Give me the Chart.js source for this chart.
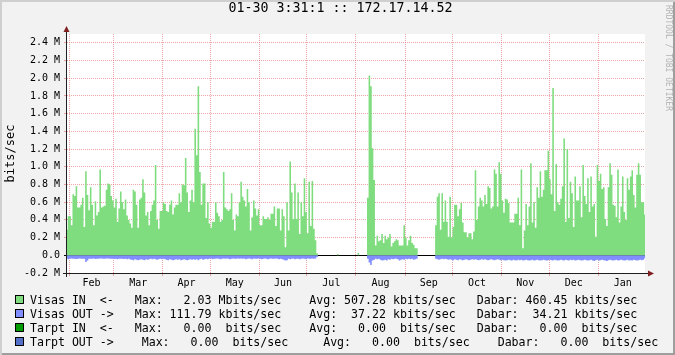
<!DOCTYPE html>
<html>
<head>
<meta charset="utf-8">
<script src="https://cdn.jsdelivr.net/npm/chart.js@4.4.0/dist/chart.umd.min.js"></script>
<style>
  html, body { margin: 0; padding: 0; background: #fff; }
  #wrap {
    position: relative; width: 675px; height: 355px; overflow: hidden;
    background: #f2f2f2;
    box-shadow: inset 2px 2px 0 #cfcfcf, inset -2px -2px 0 #9e9e9e;
  }
  #c { position: absolute; left: 0; top: 0; }
  #title {
    position: absolute; left: 0; top: 0; width: 675px; height: 28px; line-height: 28px;
    padding-left: 6px; box-sizing: border-box; text-align: center;
    font: 13.3px "DejaVu Sans Mono", monospace; color: #000;
  }
  .row {
    position: absolute; left: 0; height: 14px; line-height: 14px;
    font: 11.6px "DejaVu Sans Mono", monospace; color: #000; white-space: pre;
  }
  .row .box {
    position: absolute; left: 15px; top: 2.5px; width: 9px; height: 9px;
    box-sizing: border-box; border: 1px solid #000;
  }
  .row .txt { position: absolute; left: 30px; top: 0; }
</style>
</head>
<body>
<div id="wrap">
  <canvas id="c" width="675" height="355"></canvas>
  <div id="title">01-30 3:31:1 :: 172.17.14.52</div>
  <div id="legend"></div>
</div>
<script>
// days counted from Feb 1 (day 0); first value is Jan 30
var firstDay = -2;
var dayRange = [-1.45, 363.55];
var monthNames = ["Feb", "Mar", "Apr", "May", "Jun", "Jul", "Aug", "Sep", "Oct", "Nov", "Dec", "Jan"];
var monthStarts = [0, 28, 59, 89, 120, 150, 181, 212, 242, 273, 303, 334];
var monthMids = [14, 43.5, 74, 104.5, 135, 165.5, 196.5, 227, 257.5, 288, 318.5, 349.5];

// daily averages, Mbits/sec
var visasIn = [
  0.29, 0.44, 0.44, 0.34, 0.69, 0.67, 0.78, 0.54, 0.54, 0.57, 0.65, 0.32,
  0.95, 0.68, 0.51, 0.77, 0.57, 0.34, 0.61, 0.45, 0.49, 0.97,
  0.54, 0.55, 0.56, 0.74, 0.81, 0.80, 0.67, 0.62, 0.54, 0.64,
  0.38, 0.53, 0.72, 0.60, 0.52, 0.63, 0.45, 0.40, 0.36, 0.31,
  0.74, 0.72, 0.57, 0.31, 0.63, 0.65, 0.86, 0.71, 0.45, 0.49,
  0.34, 0.50, 0.57, 0.62, 1.02, 0.40, 0.30, 0.50, 0.50, 0.60,
  0.58, 0.50, 0.49, 0.57, 0.62, 0.46, 0.54, 0.57, 0.57, 0.70,
  0.60, 0.80, 0.79, 1.10, 0.71, 0.49, 0.62, 0.74, 0.60, 1.43,
  1.13, 1.91, 0.94, 0.57, 0.81, 0.81, 0.42, 0.60, 0.36, 0.31,
  0.38, 0.38, 0.60, 0.48, 0.44, 0.38, 0.40, 0.94, 0.54, 0.52,
  0.50, 0.52, 0.70, 0.40, 0.28, 0.46, 0.44, 0.60, 0.83, 0.66,
  0.62, 0.55, 0.75, 0.60, 0.28, 0.43, 0.62, 0.53, 0.45, 0.52,
  0.34, 0.34, 0.44, 0.41, 0.41, 0.43, 0.40, 0.47, 0.47, 0.55,
  0.33, 0.53, 0.53, 0.28, 0.52, 0.44, 0.09, 0.60, 0.28, 1.06,
  0.71, 0.41, 0.81, 0.41, 0.71, 0.24, 0.60, 0.44, 0.87, 0.49,
  0.25, 0.83, 0.33, 0.84, 0.30, 0.17, 0.02, 0, 0, 0,
  0, 0, 0, 0, 0, 0, 0, 0, 0, 0.015,
  0, 0, 0, 0, 0, 0, 0, 0, 0, 0,
  0, 0, 0.026, 0, 0, 0, 0, 0, 0.65, 2.03,
  1.91, 1.21, 0.85, 0.11, 0.22, 0.16, 0.17, 0.24, 0.14, 0.22,
  0.18, 0.20, 0.24, 0.10, 0.14, 0.16, 0.18, 0.17, 0.11, 0.11,
  0.11, 0.34, 0.20, 0.11, 0.17, 0.22, 0.14, 0.12, 0.08, 0.08,
  0, 0, 0, 0, 0, 0, 0, 0, 0, 0,
  0, 0.34, 0.66, 0.70, 0.29, 0.70, 0.38, 0.62, 0.38, 0.21,
  0.66, 0.20, 0.32, 0.57, 0.57, 0.44, 0.52, 0.59, 0.37, 0.26,
  0.26, 0.20, 0.25, 0.25, 0.18, 0.27, 0.96, 0.40, 0.55, 0.65,
  0.62, 0.55, 0.68, 0.58, 0.78, 0.76, 0.53, 0.55, 0.97, 0.92,
  0.55, 1.05, 0.92, 0.62, 0.48, 0.64, 0.63, 0.59, 0.37, 0.37,
  0.37, 0.47, 0.47, 0.65, 0.34, 0.97, 0.08, 0.28, 0.58, 0.34,
  0.55, 1.04, 0.37, 0.60, 0.31, 0.77, 0.65, 0.95, 0.66, 0.74,
  0.96, 0.96, 1.18, 0.86, 0.69, 1.89, 0.50, 1.03, 0.60, 0.57,
  0.64, 0.78, 1.32, 0.38, 1.20, 0.42, 0.83, 0.70, 0.32, 0.89,
  0.62, 0.62, 0.78, 0.43, 1.02, 0.67, 0.58, 0.87, 0.49, 0.89,
  0.55, 0.58, 0.21, 1.02, 0.84, 0.92, 0.75, 0.77, 0.41, 0.33,
  0.77, 1.04, 0.91, 0.57, 0.56, 0.43, 0.97, 0.37, 0.55, 0.89,
  0.49, 0.40, 0.87, 0.74, 0.89, 0.96, 0.68, 0.54, 0.91, 1.04,
  0.91, 0.60, 0.60, 0.46
];

// outgoing traffic, drawn below zero
var visasOut = [
  -0.04, -0.045, -0.04, -0.035, -0.04, -0.038, -0.042, -0.04, -0.036, -0.04,
  -0.038, -0.04, -0.075, -0.06, -0.04, -0.038, -0.04, -0.036, -0.042, -0.04,
  -0.04, -0.036, -0.035, -0.038, -0.04, -0.036, -0.035, -0.04, -0.038, -0.04,
  -0.042, -0.04, -0.045, -0.04, -0.038, -0.04, -0.042, -0.04, -0.045, -0.04,
  -0.048, -0.05, -0.055, -0.045, -0.05, -0.055, -0.05, -0.045, -0.05, -0.055,
  -0.045, -0.05, -0.045, -0.04, -0.045, -0.04, -0.045, -0.05, -0.045, -0.04,
  -0.045, -0.04, -0.045, -0.05, -0.055, -0.045, -0.05, -0.055, -0.05, -0.045,
  -0.05, -0.045, -0.055, -0.05, -0.045, -0.05, -0.055, -0.05, -0.045, -0.05,
  -0.045, -0.05, -0.045, -0.055, -0.045, -0.04, -0.05, -0.045, -0.04, -0.045,
  -0.04, -0.035, -0.045, -0.04, -0.04, -0.035, -0.04, -0.045, -0.04, -0.035,
  -0.04, -0.035, -0.04, -0.045, -0.04, -0.035, -0.04, -0.04, -0.035, -0.04,
  -0.035, -0.04, -0.035, -0.045, -0.04, -0.035, -0.04, -0.045, -0.035, -0.04,
  -0.04, -0.035, -0.04, -0.045, -0.04, -0.035, -0.04, -0.045, -0.04, -0.035,
  -0.04, -0.04, -0.035, -0.04, -0.045, -0.04, -0.045, -0.05, -0.06, -0.055,
  -0.04, -0.045, -0.04, -0.035, -0.045, -0.04, -0.04, -0.045, -0.04, -0.035,
  -0.04, -0.045, -0.035, -0.04, -0.04, -0.035, -0.04, -0.035, -0.02, 0,
  0, 0, 0, 0, 0, 0, 0, 0, 0, 0,
  0, 0, 0, 0, 0, 0, 0, 0, 0, 0,
  0, 0, 0, 0, 0, 0, 0, 0, 0, 0,
  -0.04, -0.08, -0.11, -0.06, -0.05, -0.04, -0.045, -0.04, -0.05, -0.06,
  -0.055, -0.05, -0.06, -0.045, -0.05, -0.04, -0.045, -0.04, -0.04, -0.045,
  -0.06, -0.05, -0.045, -0.05, -0.04, -0.045, -0.04, -0.045, -0.04, -0.05, -0.045, -0.04,
  0, 0, 0, 0, 0, 0, 0, 0, 0, 0, 0,
  -0.04, -0.045, -0.05, -0.045, -0.04, -0.045, -0.04, -0.045, -0.05, -0.045,
  -0.05, -0.055, -0.045, -0.05, -0.055, -0.045, -0.05, -0.055, -0.05, -0.045,
  -0.05, -0.055, -0.05, -0.045, -0.05, -0.045, -0.05, -0.055, -0.05, -0.045,
  -0.05, -0.045, -0.05, -0.055, -0.05, -0.045, -0.05, -0.055, -0.05, -0.045,
  -0.05, -0.055, -0.05, -0.055, -0.06, -0.055, -0.05, -0.055, -0.06, -0.05,
  -0.055, -0.06, -0.05, -0.055, -0.05, -0.06, -0.055, -0.05, -0.055, -0.06,
  -0.055, -0.05, -0.06, -0.055, -0.05, -0.055, -0.06, -0.055, -0.05, -0.055,
  -0.06, -0.055, -0.05, -0.055, -0.06, -0.05, -0.055, -0.06, -0.055, -0.05,
  -0.055, -0.06, -0.05, -0.055, -0.06, -0.05, -0.055, -0.05, -0.06, -0.055,
  -0.05, -0.055, -0.06, -0.055, -0.05, -0.055, -0.06, -0.055, -0.05, -0.06,
  -0.065, -0.055, -0.05, -0.06, -0.055, -0.05, -0.055, -0.06, -0.065, -0.055,
  -0.05, -0.055, -0.06, -0.055, -0.05, -0.06, -0.055, -0.05, -0.055, -0.06,
  -0.055, -0.05, -0.06, -0.055, -0.06, -0.05, -0.055, -0.06, -0.055, -0.05,
  -0.055, -0.05, -0.034
];

var legendRows = [
  ["#7fdc7f", "Visas IN  <-   Max:   2.03 Mbits/sec    Avg: 507.28 kbits/sec   Dabar: 460.45 kbits/sec"],
  ["#808eff", "Visas OUT ->   Max: 111.79 kbits/sec    Avg:  37.22 kbits/sec   Dabar:  34.21 kbits/sec"],
  ["#009c00", "Tarpt IN  <-   Max:   0.00  bits/sec    Avg:   0.00  bits/sec   Dabar:   0.00  bits/sec"],
  ["#5470c8", "Tarpt OUT ->    Max:   0.00  bits/sec     Avg:   0.00  bits/sec    Dabar:   0.00  bits/sec"]
];

var majorGrid = "rgba(222,79,79,0.5)";
var minorGrid = "rgba(143,143,143,0.55)";
var monoFont = "'DejaVu Sans Mono', monospace";

function toPoints(values) {
  var pts = values.map(function(v, i) { return { x: firstDay + i, y: v }; });
  pts.push({ x: firstDay + values.length, y: values[values.length - 1] });
  return pts;
}

function tenths(v) {
  return Math.round(v * 10);
}

// legend below the graph
var legend = document.getElementById("legend");
legendRows.forEach(function(r, i) {
  var row = document.createElement("div");
  row.className = "row";
  row.style.top = (292.5 + i * 14) + "px";
  row.innerHTML = '<span class="box"></span><span class="txt"></span>';
  row.querySelector(".box").style.background = r[0];
  row.querySelector(".txt").textContent = r[1];
  legend.appendChild(row);
});

var rrdDecor = {
  id: "rrdDecor",
  beforeDraw: function(chart) {
    var ctx = chart.ctx, a = chart.chartArea;
    ctx.save();
    ctx.fillStyle = "#fff";
    ctx.fillRect(a.left, a.top, a.right - a.left, a.bottom - a.top);
    ctx.restore();
  },
  afterDraw: function(chart) {
    var ctx = chart.ctx, a = chart.chartArea;
    var x0 = a.left - 0.5, y0 = a.bottom + 0.5;
    ctx.save();
    ctx.strokeStyle = "rgb(31,31,31)";
    ctx.lineWidth = 1;
    ctx.beginPath();
    ctx.moveTo(a.left - 4, y0);
    ctx.lineTo(a.right + 4, y0);
    ctx.moveTo(x0, a.bottom + 4);
    ctx.lineTo(x0, a.top - 3);
    ctx.stroke();
    // arrows
    ctx.fillStyle = "rgb(128,31,31)";
    ctx.beginPath();
    ctx.moveTo(a.right + 9, y0);
    ctx.lineTo(a.right + 3, y0 - 3);
    ctx.lineTo(a.right + 3, y0 + 3);
    ctx.closePath();
    ctx.fill();
    ctx.beginPath();
    ctx.moveTo(x0, a.top - 8);
    ctx.lineTo(x0 - 3, a.top - 2);
    ctx.lineTo(x0 + 3, a.top - 2);
    ctx.closePath();
    ctx.fill();
    // watermark
    ctx.translate(668, 5);
    ctx.rotate(Math.PI / 2);
    ctx.fillStyle = "#b4b4b4";
    ctx.font = "8px " + monoFont;
    ctx.textBaseline = "middle";
    ctx.fillText("RRDTOOL / TOBI OETIKER", 0, 0);
    ctx.restore();
  }
};

var chart = new Chart(document.getElementById("c"), {
  type: "line",
  data: {
    datasets: [
      {
        label: "Visas IN",
        data: toPoints(visasIn),
        stepped: true,
        fill: "origin",
        backgroundColor: "#7fdc7f",
        borderColor: "rgba(0,0,0,0)",
        borderWidth: 0,
        pointRadius: 0
      },
      {
        label: "Visas OUT",
        data: toPoints(visasOut),
        stepped: true,
        fill: "origin",
        backgroundColor: "#808eff",
        borderColor: "rgba(0,0,0,0)",
        borderWidth: 0,
        pointRadius: 0
      }
    ]
  },
  options: {
    responsive: false,
    animation: false,
    layout: { padding: { top: 34, right: 30, bottom: 0, left: 0 } },
    plugins: {
      legend: { display: false },
      tooltip: { enabled: false }
    },
    scales: {
      x: {
        type: "linear",
        min: dayRange[0],
        max: dayRange[1],
        z: 1,
        afterBuildTicks: function(s) {
          s.ticks = monthStarts.concat(monthMids)
            .sort(function(a, b) { return a - b; })
            .map(function(v) { return { value: v }; });
        },
        afterFit: function(s) { s.height = 82; },
        ticks: {
          autoSkip: false,
          maxRotation: 0,
          padding: 1,
          color: "#000",
          font: { family: monoFont, size: 10 },
          callback: function(v) {
            var i = monthMids.indexOf(v);
            return i < 0 ? "" : monthNames[i];
          }
        },
        grid: {
          lineWidth: 1,
          tickLength: 3,
          color: function(c) {
            return monthStarts.indexOf(c.tick.value) >= 0 ? majorGrid : "rgba(0,0,0,0)";
          },
          tickColor: function(c) {
            return monthStarts.indexOf(c.tick.value) >= 0 ? majorGrid : "rgba(0,0,0,0)";
          }
        },
        border: { display: false, dash: [1, 1] }
      },
      y: {
        min: -0.2,
        max: 2.5,
        z: 1,
        afterBuildTicks: function(s) {
          var t = [];
          for (var n = -2; n <= 25; n++) t.push({ value: n / 10 });
          s.ticks = t;
        },
        afterFit: function(s) { s.width = 67; },
        title: {
          display: true,
          text: "bits/sec",
          color: "#000",
          font: { family: monoFont, size: 12 },
          padding: { top: 4, bottom: 0 }
        },
        ticks: {
          padding: 4,
          color: "#000",
          font: { family: monoFont, size: 10 },
          callback: function(v) {
            var n = tenths(v);
            if (n % 2) return "";
            return n === 0 ? "0.0" : (n / 10).toFixed(1) + " M";
          }
        },
        grid: {
          lineWidth: 1,
          tickLength: 3,
          color: function(c) {
            var n = tenths(c.tick.value);
            if (n === 0) return "#000";
            return n % 2 ? minorGrid : majorGrid;
          },
          tickColor: function(c) {
            var n = tenths(c.tick.value);
            if (n === 0) return "#000";
            return n % 2 ? minorGrid : majorGrid;
          }
        },
        border: {
          display: false,
          dash: function(c) {
            return tenths(c.tick.value) === 0 ? [] : [1, 1];
          }
        }
      }
    }
  },
  plugins: [rrdDecor]
});
</script>
</body>
</html>
